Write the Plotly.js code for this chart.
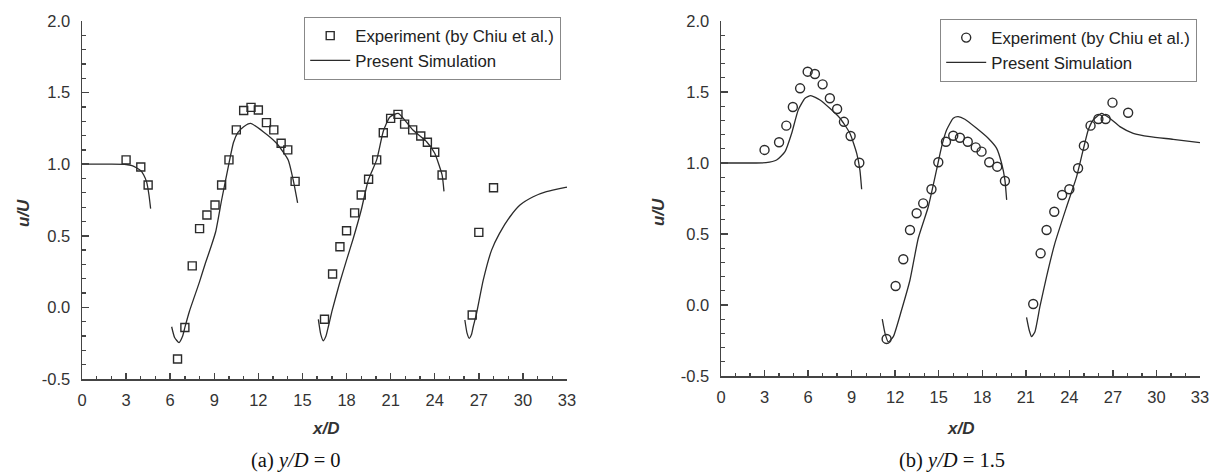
<!DOCTYPE html>
<html>
<head>
<meta charset="utf-8">
<script src="https://cdn.plot.ly/plotly-3.0.1.min.js"></script>
<style>html,body{margin:0;padding:0;background:#fff}#chart{width:1216px;height:473px}</style>
</head>
<body>
<div id="chart"></div>
<script>
// ---------- (a) y/D = 0 ----------
var expA_x = [3.0, 4.0, 4.5,
  6.5, 7.0, 7.5, 8.0, 8.5, 9.05, 9.5, 10.0, 10.5, 11.0, 11.5, 12.0, 12.55, 13.05, 13.55, 14.0, 14.5,
  16.5, 17.05, 17.55, 18.0, 18.55, 19.0, 19.5, 20.05, 20.5, 21.0, 21.5, 21.95, 22.5, 23.05, 23.5, 24.0, 24.5,
  26.55, 27.0, 28.0];
var expA_y = [1.03, 0.98, 0.855,
  -0.36, -0.14, 0.29, 0.55, 0.645, 0.715, 0.855, 1.03, 1.24, 1.375, 1.397, 1.378, 1.29, 1.24, 1.146, 1.10, 0.88,
  -0.083, 0.233, 0.424, 0.535, 0.66, 0.785, 0.895, 1.03, 1.22, 1.32, 1.348, 1.28, 1.24, 1.197, 1.153, 1.083, 0.925,
  -0.053, 0.524, 0.836];

var simA1_x = [0, 1, 2, 3, 3.4, 3.7, 4.0, 4.2, 4.4, 4.55, 4.67];
var simA1_y = [1.0, 1.0, 1.0, 0.998, 0.99, 0.975, 0.955, 0.925, 0.875, 0.79, 0.69];
var simA2_x = [6.1, 6.3, 6.6, 6.85, 7.0, 7.3, 7.65, 8.0, 8.4, 8.8, 9.1, 9.5, 10.0, 10.3, 10.6, 11.0, 11.47, 12.33, 13.24, 14.03, 14.37, 14.67];
var simA2_y = [-0.135, -0.21, -0.246, -0.2, -0.14, -0.03, 0.075, 0.18, 0.31, 0.43, 0.53, 0.75, 1.006, 1.15, 1.22, 1.262, 1.285, 1.227, 1.146, 1.03, 0.89, 0.73];
var simA3_x = [16.08, 16.25, 16.42, 16.6, 16.76, 17.0, 17.5, 18.0, 18.46, 19.0, 19.48, 20.05, 20.5, 20.95, 21.52, 22.5, 23.45, 24.0, 24.5, 24.63];
var simA3_y = [-0.083, -0.19, -0.233, -0.2, -0.135, -0.03, 0.16, 0.33, 0.483, 0.68, 0.89, 1.03, 1.23, 1.33, 1.355, 1.24, 1.157, 1.076, 0.925, 0.81];
var simA4_x = [26.05, 26.2, 26.35, 26.5, 26.62, 26.85, 27.3, 27.87, 28.4, 29.12, 29.8, 30.7, 31.6, 32.9, 33.0];
var simA4_y = [-0.088, -0.18, -0.216, -0.19, -0.135, -0.04, 0.19, 0.40, 0.515, 0.633, 0.715, 0.773, 0.808, 0.838, 0.84];

// ---------- (b) y/D = 1.5 ----------
var expB_x = [3.0, 4.0, 4.5, 4.95, 5.45, 5.97, 6.47, 7.0, 7.5, 8.0, 8.47, 8.93, 9.53,
  11.41, 12.03, 12.56, 13.02, 13.48, 13.93, 14.5, 14.97, 15.5, 16.0, 16.46, 17.0, 17.55, 17.95, 18.48, 19.03, 19.56,
  21.51, 22.02, 22.43, 22.96, 23.5, 24.0, 24.6, 25.0, 25.46, 26.0, 26.5, 26.97, 28.05];
var expB_y = [1.092, 1.146, 1.263, 1.394, 1.526, 1.643, 1.627, 1.554, 1.456, 1.38, 1.29, 1.19, 1.002,
  -0.239, 0.134, 0.322, 0.528, 0.646, 0.716, 0.815, 1.005, 1.15, 1.192, 1.178, 1.15, 1.11, 1.08, 1.005, 0.974, 0.873,
  0.007, 0.364, 0.528, 0.657, 0.775, 0.815, 0.963, 1.122, 1.263, 1.31, 1.31, 1.425, 1.354];

var simB1_x = [0, 1, 2, 3.1, 3.83, 4.41, 4.87, 5.32, 5.79, 6.18, 6.82, 7.5, 8.2, 8.88, 9.35, 9.57, 9.69];
var simB1_y = [1.0, 1.0, 1.0, 1.002, 1.021, 1.08, 1.21, 1.373, 1.456, 1.474, 1.444, 1.385, 1.315, 1.21, 1.068, 0.95, 0.815];
var simB2_x = [11.11, 11.3, 11.52, 11.87, 12.44, 13.02, 13.59, 14.28, 14.85, 15.2, 15.54, 16.0, 16.34, 16.8, 17.61, 18.41, 18.99, 19.33, 19.56, 19.68];
var simB2_y = [-0.1, -0.2, -0.26, -0.223, -0.035, 0.176, 0.47, 0.692, 0.951, 1.115, 1.232, 1.315, 1.326, 1.308, 1.244, 1.174, 1.103, 0.998, 0.88, 0.74];
var simB3_x = [21.05, 21.23, 21.4, 21.63, 21.97, 22.43, 23.0, 23.81, 24.5, 24.95, 25.3, 25.64, 26.22, 26.79, 27.48, 28.4, 29.55, 31.15, 33.0];
var simB3_y = [-0.087, -0.176, -0.223, -0.188, -0.012, 0.2, 0.434, 0.692, 0.904, 1.092, 1.232, 1.303, 1.35, 1.315, 1.256, 1.209, 1.185, 1.167, 1.143];

var xTicks = [0, 3, 6, 9, 12, 15, 18, 21, 24, 27, 30, 33];
var yTicks = [-0.5, 0.0, 0.5, 1.0, 1.5, 2.0];

function joinSegs(segs) {
  var out = [];
  segs.forEach(function (s, i) { if (i) out.push(null); out = out.concat(s); });
  return out;
}

var ink = '#2b2b2b';
var tickFont = {family: 'Liberation Sans, Arial, sans-serif', size: 16.5, color: '#333'};

var traces = [
  {x: expA_x, y: expA_y, type: 'scatter', mode: 'markers', name: 'Experiment (by Chiu et al.)',
   marker: {symbol: 'square-open', size: 8, color: ink, line: {width: 1.4, color: ink}},
   xaxis: 'x', yaxis: 'y', legend: 'legend'},
  {x: joinSegs([simA1_x, simA2_x, simA3_x, simA4_x]), y: joinSegs([simA1_y, simA2_y, simA3_y, simA4_y]),
   type: 'scatter', mode: 'lines', name: 'Present Simulation', connectgaps: false,
   line: {color: ink, width: 1.3, shape: 'spline', smoothing: 0.5},
   xaxis: 'x', yaxis: 'y', legend: 'legend'},
  {x: expB_x, y: expB_y, type: 'scatter', mode: 'markers', name: 'Experiment (by Chiu et al.)',
   marker: {symbol: 'circle-open', size: 9, color: ink, line: {width: 1.4, color: ink}},
   xaxis: 'x2', yaxis: 'y2', legend: 'legend2'},
  {x: joinSegs([simB1_x, simB2_x, simB3_x]), y: joinSegs([simB1_y, simB2_y, simB3_y]),
   type: 'scatter', mode: 'lines', name: 'Present Simulation', connectgaps: false,
   line: {color: ink, width: 1.3, shape: 'spline', smoothing: 0.5},
   xaxis: 'x2', yaxis: 'y2', legend: 'legend2'}
];

function xax(dom, anchor) {
  return {domain: dom, anchor: anchor, range: [0, 33], tickvals: xTicks, ticktext: xTicks.map(String),
    showline: true, linecolor: '#444', linewidth: 1.5, showgrid: false, zeroline: false,
    ticks: 'inside', ticklen: 6, tickwidth: 1.5, tickcolor: '#444', ticklabelstandoff: 6,
    minor: {dtick: 1, tick0: 0, ticks: 'inside', ticklen: 3, tickwidth: 1.3, tickcolor: '#444', showgrid: false},
    tickfont: tickFont, fixedrange: true};
}
function yax(dom, anchor) {
  return {domain: dom, anchor: anchor, range: [-0.5, 2.0], tickvals: yTicks, ticktext: yTicks.map(function (v) { return v.toFixed(1); }),
    showline: true, linecolor: '#444', linewidth: 1.5, showgrid: false, zeroline: false,
    ticks: 'inside', ticklen: 7, tickwidth: 1.5, tickcolor: '#444', ticklabelstandoff: 7,
    minor: {dtick: 0.1, tick0: 0, ticks: 'inside', ticklen: 3.5, tickwidth: 1.3, tickcolor: '#444', showgrid: false},
    tickfont: tickFont, fixedrange: true};
}

var W = 1216, H = 473;
function px(v) { return v / W; }
function py(v) { return 1 - v / H; }

var titleFont = {family: 'Liberation Sans, Arial, sans-serif', size: 17, color: '#333'};
var capFont = {family: 'Liberation Serif, Times New Roman, serif', size: 20.5, color: '#111'};
var legFont = {family: 'Liberation Sans, Arial, sans-serif', size: 16.8, color: '#222'};

var layout = {
  width: W, height: H, margin: {l: 0, r: 0, t: 0, b: 0},
  paper_bgcolor: '#fff', plot_bgcolor: '#fff', showlegend: true,
  xaxis: xax([px(82), px(567)], 'y'),
  yaxis: yax([1 - 379 / H, 1 - 21 / H], 'x'),
  xaxis2: xax([px(721), px(1200)], 'y2'),
  yaxis2: yax([1 - 376 / H, 1 - 21 / H], 'x2'),
  legend: {x: px(304), y: py(17), xanchor: 'left', yanchor: 'top', bordercolor: '#888', borderwidth: 1.2,
    bgcolor: 'rgba(255,255,255,0)', font: legFont, itemwidth: 40, tracegroupgap: 0},
  legend2: {x: px(940), y: py(19), xanchor: 'left', yanchor: 'top', bordercolor: '#888', borderwidth: 1.2,
    bgcolor: 'rgba(255,255,255,0)', font: legFont, itemwidth: 40, tracegroupgap: 0},
  annotations: [
    {xref: 'paper', yref: 'paper', x: px(23), y: py(213), text: '<b><i>u/U</i></b>', textangle: -90, showarrow: false, font: titleFont, xanchor: 'center', yanchor: 'middle'},
    {xref: 'paper', yref: 'paper', x: px(659), y: py(212), text: '<b><i>u/U</i></b>', textangle: -90, showarrow: false, font: titleFont, xanchor: 'center', yanchor: 'middle'},
    {xref: 'paper', yref: 'paper', x: px(325), y: py(428), text: '<b><i>x/D</i></b>', showarrow: false, font: titleFont, xanchor: 'center', yanchor: 'middle'},
    {xref: 'paper', yref: 'paper', x: px(960), y: py(428), text: '<b><i>x/D</i></b>', showarrow: false, font: titleFont, xanchor: 'center', yanchor: 'middle'},
    {xref: 'paper', yref: 'paper', x: px(296), y: py(460), text: '(a) <i>y/D</i> = 0', showarrow: false, font: capFont, xanchor: 'center', yanchor: 'middle'},
    {xref: 'paper', yref: 'paper', x: px(952), y: py(460), text: '(b) <i>y/D</i> = 1.5', showarrow: false, font: capFont, xanchor: 'center', yanchor: 'middle'}
  ]
};

Plotly.newPlot('chart', traces, layout, {displayModeBar: false, staticPlot: true});
</script>
</body>
</html>
